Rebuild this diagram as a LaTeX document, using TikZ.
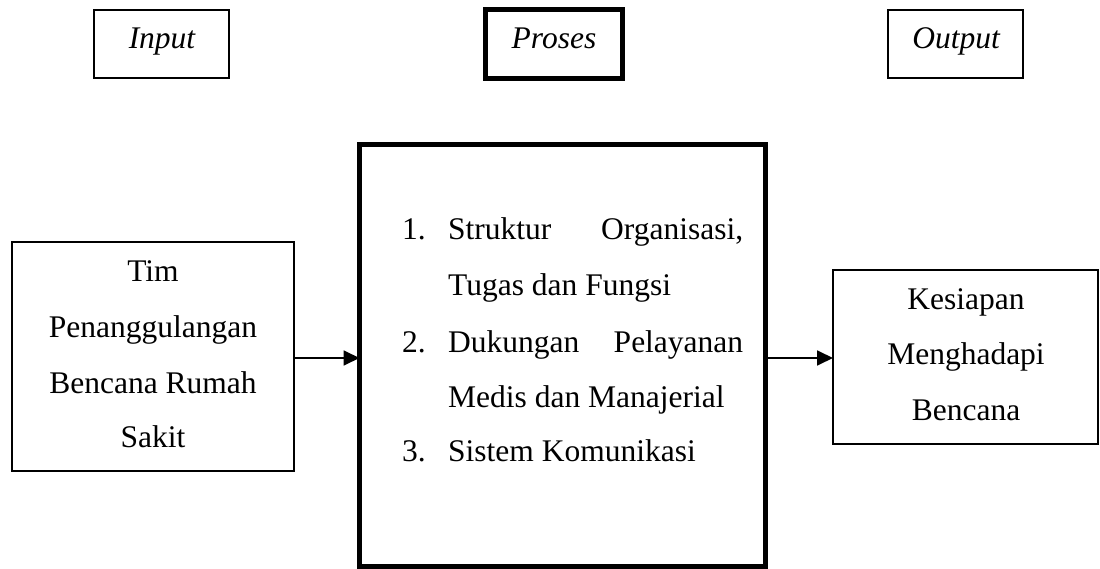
\documentclass[tikz,border=0pt]{standalone}
\usepackage{fontspec}
\setmainfont{Liberation Serif}
\usetikzlibrary{arrows.meta}
\begin{document}
\begin{tikzpicture}[x=1pt,y=-1pt,
  thinbox/.style={draw,line width=2pt,inner sep=0pt,outer sep=0pt},
  thickbox/.style={draw,line width=5pt,inner sep=0pt,outer sep=0pt},
  txt/.style={inner sep=0pt,anchor=base,font=\fontsize{31.5}{38}\selectfont},
  ltxt/.style={inner sep=0pt,anchor=base west,font=\fontsize{31.5}{38}\selectfont},
  arr/.style={line width=1.8pt,-{Triangle[length=16pt,width=15pt]}}]
\useasboundingbox (0,0) rectangle (1100,569);
% top labels
\node[thinbox,minimum width=135pt,minimum height=68pt] (inb) at (161.5,44) {};
\node[thickbox,minimum width=137pt,minimum height=69pt] (prb) at (554,44) {};
\node[thinbox,minimum width=135pt,minimum height=68pt] (outb) at (955.5,44) {};
\node[txt] (inl) at (162,49) {\itshape Input};
\node[txt] (prl) at (554,49) {\itshape Proses};
\node[txt] (outl) at (956,49) {\itshape Output};
% main boxes
\node[thinbox,minimum width=282pt,minimum height=229pt] (L) at (153,356.5) {};
\node[thickbox,minimum width=406pt,minimum height=422pt] (M) at (562.5,355.5) {};
\node[thinbox,minimum width=265pt,minimum height=174pt] (R) at (965.5,357) {};
% left text
\node[txt] (l1) at (153,282) {Tim};
\node[txt] (l2) at (153,337) {Penanggulangan};
\node[txt] (l3) at (153,393) {Bencana Rumah};
\node[txt] (l4) at (153,447) {Sakit};
% middle list
\node[ltxt] (n1) at (402,240) {1.};
\node[ltxt] (m1) at (448,240) {\hbox to 295pt{Struktur\hfill Organisasi,}};
\node[ltxt] (m2) at (448,296) {Tugas dan Fungsi};
\node[ltxt] (n2) at (402,352) {2.};
\node[ltxt] (m3) at (448,352) {\hbox to 295pt{Dukungan\hfill Pelayanan}};
\node[ltxt] (m4) at (448,407) {Medis dan Manajerial};
\node[ltxt] (n3) at (402,461) {3.};
\node[ltxt] (m5) at (448,461) {Sistem Komunikasi};
% right text
\node[txt] (r1) at (966,309) {Kesiapan};
\node[txt] (r2) at (966,364) {Menghadapi};
\node[txt] (r3) at (966,420) {Bencana};
% arrows
\coordinate (a1) at (294,358);
\coordinate (a2) at (766,358);
\draw[arr] (a1) -- (a1 -| M.west);
\draw[arr] (a2) -- (a2 -| R.west);
\end{tikzpicture}
\end{document}
